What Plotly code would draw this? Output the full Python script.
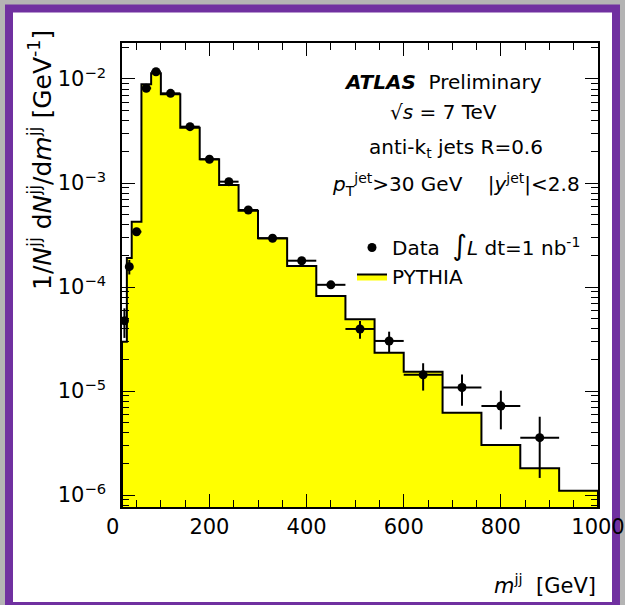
import plotly.graph_objects as go

# ---------------- data ----------------
bin_edges = [20, 30, 40, 60, 80, 100, 140, 180, 220, 260, 300, 360, 420, 480,
             540, 600, 680, 760, 840, 920, 1000]
pythia = [2.98e-5, 1.90e-4, 4.25e-4, 8.89e-3, 1.135e-2, 7.13e-3, 3.40e-3,
          1.69e-3, 9.57e-4, 5.42e-4, 2.94e-4, 1.59e-4, 8.18e-5, 4.89e-5,
          2.33e-5, 1.53e-5, 6.19e-6, 3.03e-6, 1.81e-6, 1.10e-6]
data_x = [25, 35, 50, 70, 90, 120, 160, 200, 240, 280, 330, 390, 450, 510,
          570, 640, 720, 800, 880]
data_y = [4.74e-5, 1.57e-4, 3.40e-4, 8.14e-3, 1.175e-2, 7.28e-3, 3.48e-3,
          1.69e-3, 1.03e-3, 5.50e-4, 2.94e-4, 1.79e-4, 1.05e-4, 3.95e-5,
          3.03e-5, 1.43e-5, 1.08e-5, 7.18e-6, 3.56e-6]
data_yerr = [1.5e-5, 2.5e-5, 3.0e-5, 4.0e-4, 5.0e-4, 3.0e-4, 1.5e-4, 8.0e-5,
             5.0e-5, 3.0e-5, 1.6e-5, 1.2e-5, 9.0e-6, 7.7e-6, 6.9e-6, 4.2e-6,
             3.6e-6, 2.9e-6, 2.1e-6]
x_tick_vals = [200, 400, 600, 800, 1000]
x_range = [20, 1000]
y_log_range = [-6.115, -1.654]
y_tick_vals = [1e-6, 1e-5, 1e-4, 1e-3, 1e-2]
y_tick_text = ["10<sup>\u22126</sup>", "10<sup>\u22125</sup>", "10<sup>\u22124</sup>",
               "10<sup>\u22123</sup>", "10<sup>\u22122</sup>"]
y_decades = [-7, -6, -5, -4, -3, -2]
y_minor_mantissas = [2, 3, 4, 5, 6, 7, 8, 9]

# half bin widths for data points
data_xerr = [(bin_edges[i + 1] - bin_edges[i]) / 2 for i in range(len(data_x))]

# step polygon for the filled MC histogram
floor_val = 1e-9
hist_x = [bin_edges[0]] + bin_edges[:-1] + [bin_edges[-1], bin_edges[-1]]
hist_y = [floor_val] + pythia + [pythia[-1], floor_val]

y_minor_vals = [m * 10.0 ** d for d in y_decades for m in y_minor_mantissas]

FONT = "DejaVu Sans"

fig = go.Figure()
fig.add_trace(go.Scatter(
    x=hist_x, y=hist_y, mode="lines", line=dict(shape="hv", color="black", width=2),
    fill="toself", fillcolor="#FFFF00", name="PYTHIA", hoverinfo="skip"))
fig.add_trace(go.Scatter(
    x=data_x, y=data_y, mode="markers",
    marker=dict(color="black", size=9, symbol="circle"),
    error_y=dict(type="data", array=data_yerr, color="black", thickness=2, width=0),
    error_x=dict(type="data", array=data_xerr, color="black", thickness=2, width=0),
    name='Data &nbsp;<span style="font-size:28px">∫</span><i>L</i> dt=1 nb<sup>-1</sup>'))

L, R, T, B = 122, 27, 43, 98
W, H = 625, 605
pw, ph = W - L - R, H - T - B


def xp(px):
    return (px - L) / pw


def yp(py):
    return (T + ph - py) / ph


annotations = [
    dict(text="<b><i>ATLAS</i></b>  Preliminary", x=xp(443), y=yp(82)),
    dict(text="√<i>s</i> = 7 TeV", x=xp(443), y=yp(112)),
    dict(text="anti-k<sub>t</sub> jets R=0.6", x=xp(456), y=yp(148)),
    dict(text="<i>p</i><sub>T</sub><sup>jet</sup>&gt;30 GeV    |<i>y</i><sup>jet</sup>|&lt;2.8",
         x=xp(456), y=yp(184)),
]
ann = []
for a in annotations:
    a.update(xref="paper", yref="paper", showarrow=False, xanchor="center",
             yanchor="middle", font=dict(family=FONT, size=20, color="black"))
    ann.append(a)

# "0" label at the x=0 position (just left of the axis range start)
ann.append(dict(text="0", xref="paper", yref="paper",
                x=(0 - x_range[0]) / (x_range[1] - x_range[0]), y=yp(527),
                showarrow=False, xanchor="center", yanchor="middle",
                font=dict(family=FONT, size=21, color="black")))
# axis titles
ann.append(dict(text="<i>m</i><sup>jj</sup>  [GeV]", xref="paper", yref="paper",
                x=xp(598), y=yp(584), showarrow=False, xanchor="right",
                yanchor="middle", font=dict(family=FONT, size=21, color="black")))
ann.append(dict(text="1/<i>N</i><sup>jj</sup> d<i>N</i><sup>jj</sup>/d<i>m</i><sup>jj</sup> [GeV<sup>-1</sup>]",
                xref="paper", yref="paper", x=xp(40), y=yp(28), textangle=-90,
                showarrow=False, xanchor="center", yanchor="top",
                font=dict(family=FONT, size=25, color="black")))

fig.update_layout(
    width=W, height=H,
    margin=dict(l=L, r=R, t=T, b=B, autoexpand=False),
    paper_bgcolor="#b4b4b4", plot_bgcolor="white",
    font=dict(family=FONT, size=20, color="black"),
    showlegend=True,
    legend=dict(x=xp(352), y=yp(228), xanchor="left", yanchor="top",
                bgcolor="rgba(0,0,0,0)", borderwidth=0, traceorder="reversed",
                font=dict(family=FONT, size=20, color="black")),
    annotations=ann,
    shapes=[dict(type="rect", xref="paper", yref="paper",
                 x0=xp(9), x1=xp(616), y0=yp(606), y1=yp(8.5),
                 fillcolor="white", line=dict(color="#7030A0", width=8),
                 layer="below")],
)
fig.update_xaxes(range=x_range, tickvals=x_tick_vals, ticks="inside", ticklen=13,
                 tickwidth=1.2, tickcolor="black", linecolor="black", linewidth=1.5,
                 mirror="ticks", showgrid=False, zeroline=False,
                 tickfont=dict(family=FONT, size=21, color="black"),
                 minor=dict(ticks="inside", ticklen=7, dtick=50, tickwidth=1.2,
                            tickcolor="black", showgrid=False))
fig.update_yaxes(type="log", range=y_log_range, tickmode="array",
                 tickvals=y_tick_vals, ticktext=y_tick_text,
                 ticks="inside", ticklen=13, tickwidth=1.2, tickcolor="black",
                 linecolor="black", linewidth=1.5, mirror="ticks", showgrid=False,
                 zeroline=False, ticklabelstandoff=10,
                 tickfont=dict(family=FONT, size=21, color="black"),
                 minor=dict(ticks="inside", ticklen=7, tickmode="array",
                            tickvals=y_minor_vals, tickwidth=1.2,
                            tickcolor="black", showgrid=False))

fig.write_html("out.html")
